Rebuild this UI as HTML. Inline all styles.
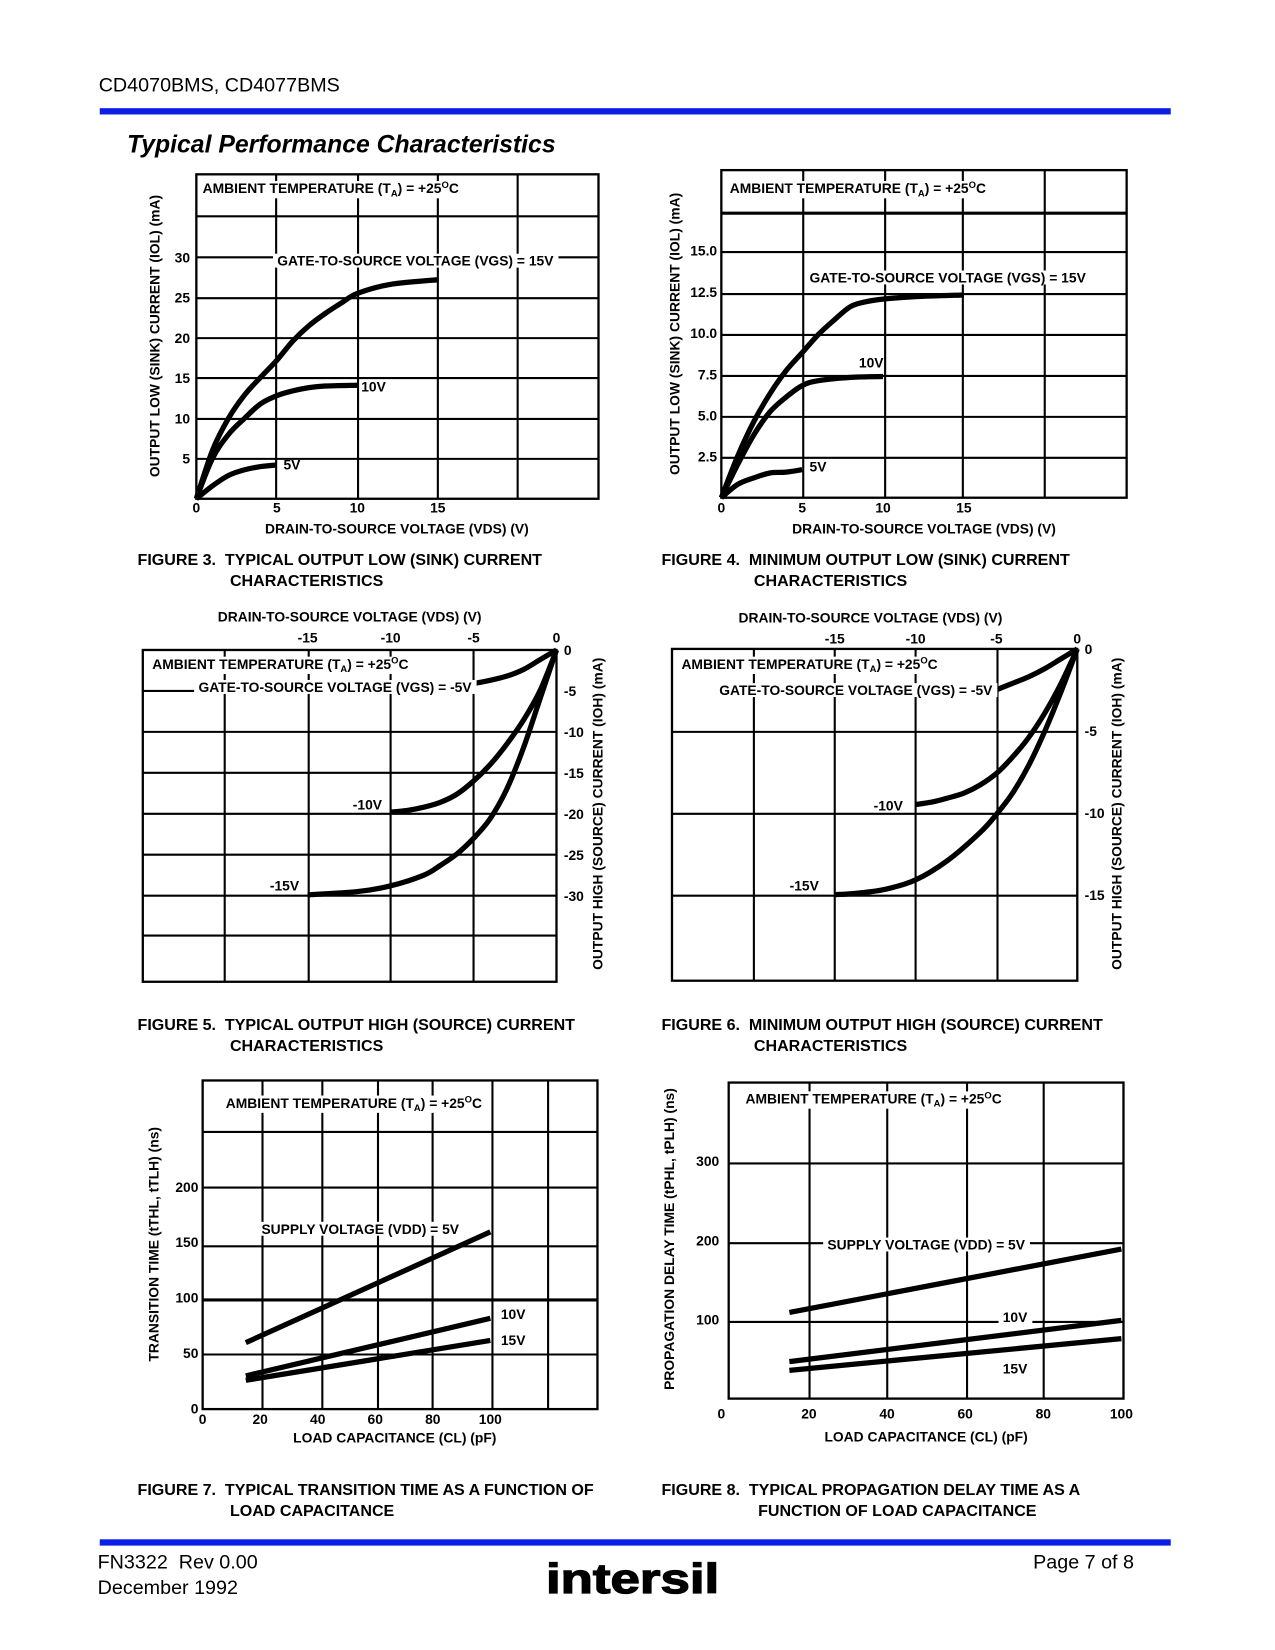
<!DOCTYPE html>
<html><head><meta charset="utf-8">
<style>
html,body{margin:0;padding:0;background:#fff;}
svg{display:block;}
text{font-family:"Liberation Sans",Arial,sans-serif;fill:#000;white-space:pre;}
.s{font-size:13.2px;font-weight:bold;}
.cap{font-size:15.3px;font-weight:bold;}
</style></head>
<body>
<svg id="page" width="1275" height="1650" viewBox="0 0 1214.3 1571.4" xml:space="preserve">
<text x="94" y="87" style="font-size:18.8px">CD4070BMS, CD4077BMS</text>
<rect x="95" y="103" width="1020" height="6" fill="#0a1ee6"/>
<text x="121" y="145" style="font-size:23.6px;font-weight:bold;font-style:italic">Typical Performance Characteristics</text>

<g id="marks"></g>

<g id="labels">
<g>
<text class="s bg" x="193" y="184">AMBIENT TEMPERATURE (T<tspan font-size="9" dy="3">A</tspan><tspan dy="-3">) = +25</tspan><tspan font-size="9" dy="-5">O</tspan><tspan dy="5">C</tspan></text>
<text class="s bg" x="264" y="253">GATE-TO-SOURCE VOLTAGE (VGS) = 15V</text>
<text class="s" x="344" y="373">10V</text>
<text class="s" x="270" y="447">5V</text>
<text class="s" x="378" y="508" text-anchor="middle">DRAIN-TO-SOURCE VOLTAGE (VDS) (V)</text>
<text class="s" transform="translate(152,320) rotate(-90)" text-anchor="middle">OUTPUT LOW (SINK) CURRENT (IOL) (mA)</text>
<text class="cap" x="131" y="538">FIGURE 3.  TYPICAL OUTPUT LOW (SINK) CURRENT</text>
<text class="cap" x="219" y="558">CHARACTERISTICS</text>
</g>
<g>
<text class="s bg" x="695" y="184">AMBIENT TEMPERATURE (T<tspan font-size="9" dy="3">A</tspan><tspan dy="-3">) = +25</tspan><tspan font-size="9" dy="-5">O</tspan><tspan dy="5">C</tspan></text>
<text class="s bg" x="771" y="269">GATE-TO-SOURCE VOLTAGE (VGS) = 15V</text>
<text class="s" x="818" y="350">10V</text>
<text class="s" x="771" y="449">5V</text>
<text class="s" x="880" y="508" text-anchor="middle">DRAIN-TO-SOURCE VOLTAGE (VDS) (V)</text>
<text class="s" transform="translate(647,318) rotate(-90)" text-anchor="middle">OUTPUT LOW (SINK) CURRENT (IOL) (mA)</text>
<text class="cap" x="630" y="538">FIGURE 4.  MINIMUM OUTPUT LOW (SINK) CURRENT</text>
<text class="cap" x="718" y="558">CHARACTERISTICS</text>
</g>
<g>
<text class="s" x="333" y="592" text-anchor="middle">DRAIN-TO-SOURCE VOLTAGE (VDS) (V)</text>
<text class="s bg" x="145" y="637">AMBIENT TEMPERATURE (T<tspan font-size="9" dy="3">A</tspan><tspan dy="-3">) = +25</tspan><tspan font-size="9" dy="-5">O</tspan><tspan dy="5">C</tspan></text>
<text class="s bg" x="189" y="659">GATE-TO-SOURCE VOLTAGE (VGS) = -5V</text>
<text class="s" x="336" y="771">-10V</text>
<text class="s" x="257" y="848">-15V</text>
<text class="s" transform="translate(574,775) rotate(-90)" text-anchor="middle">OUTPUT HIGH (SOURCE) CURRENT (IOH) (mA)</text>
<text class="cap" x="131" y="981">FIGURE 5.  TYPICAL OUTPUT HIGH (SOURCE) CURRENT</text>
<text class="cap" x="219" y="1001">CHARACTERISTICS</text>
</g>
<g>
<text class="s" x="829" y="593" text-anchor="middle">DRAIN-TO-SOURCE VOLTAGE (VDS) (V)</text>
<text class="s bg" x="649" y="637">AMBIENT TEMPERATURE (T<tspan font-size="9" dy="3">A</tspan><tspan dy="-3">) = +25</tspan><tspan font-size="9" dy="-5">O</tspan><tspan dy="5">C</tspan></text>
<text class="s bg" x="685" y="662">GATE-TO-SOURCE VOLTAGE (VGS) = -5V</text>
<text class="s" x="832" y="772">-10V</text>
<text class="s" x="752" y="848">-15V</text>
<text class="s" transform="translate(1068,775) rotate(-90)" text-anchor="middle">OUTPUT HIGH (SOURCE) CURRENT (IOH) (mA)</text>
<text class="cap" x="630" y="981">FIGURE 6.  MINIMUM OUTPUT HIGH (SOURCE) CURRENT</text>
<text class="cap" x="718" y="1001">CHARACTERISTICS</text>
</g>
<g>
<text class="s bg" x="215" y="1055">AMBIENT TEMPERATURE (T<tspan font-size="9" dy="3">A</tspan><tspan dy="-3">) = +25</tspan><tspan font-size="9" dy="-5">O</tspan><tspan dy="5">C</tspan></text>
<text class="s bg" x="249" y="1175">SUPPLY VOLTAGE (VDD) = 5V</text>
<text class="s" x="477" y="1256">10V</text>
<text class="s" x="477" y="1281">15V</text>
<text class="s" x="376" y="1374" text-anchor="middle">LOAD CAPACITANCE (CL) (pF)</text>
<text class="s" transform="translate(151,1185) rotate(-90)" text-anchor="middle">TRANSITION TIME (tTHL, tTLH) (ns)</text>
<text class="cap" x="131" y="1424">FIGURE 7.  TYPICAL TRANSITION TIME AS A FUNCTION OF</text>
<text class="cap" x="219" y="1444">LOAD CAPACITANCE</text>
</g>
<g>
<text class="s bg" x="710" y="1051">AMBIENT TEMPERATURE (T<tspan font-size="9" dy="3">A</tspan><tspan dy="-3">) = +25</tspan><tspan font-size="9" dy="-5">O</tspan><tspan dy="5">C</tspan></text>
<text class="s bg" x="788" y="1190">SUPPLY VOLTAGE (VDD) = 5V</text>
<text class="s bg" x="955" y="1259">10V</text>
<text class="s" x="955" y="1308">15V</text>
<text class="s" x="882" y="1373" text-anchor="middle">LOAD CAPACITANCE (CL) (pF)</text>
<text class="s" transform="translate(642,1180) rotate(-90)" text-anchor="middle">PROPAGATION DELAY TIME (tPHL, tPLH) (ns)</text>
<text class="cap" x="630" y="1424">FIGURE 8.  TYPICAL PROPAGATION DELAY TIME AS A</text>
<text class="cap" x="722" y="1444">FUNCTION OF LOAD CAPACITANCE</text>
</g>
</g>

<rect x="95" y="1466" width="1020" height="6" fill="#0a1ee6"/>
<text x="93" y="1494" style="font-size:18.8px">FN3322  Rev 0.00</text>
<text x="93" y="1518" style="font-size:18.8px">December 1992</text>
<text x="1080" y="1494" text-anchor="end" style="font-size:18.8px">Page 7 of 8</text>
<text x="520" y="1517" textLength="165" lengthAdjust="spacingAndGlyphs" style="font-size:40px;font-weight:bold;stroke:#000;stroke-width:1.2">intersil</text>
</svg>

<script>
var f3X15 = [0,1,2,3,4,5,6,7,8,9,10,12,15];
var f3Y15 = [0,6,10,12.9,15.1,17.2,19.6,21.5,23,24.3,25.5,26.6,27.2];
var f3X10 = [0,1,2,3,4,5,6,7,8,10];
var f3Y10 = [0,5,8,10,11.8,12.8,13.4,13.8,14,14.1];
var f3X5 = [0,1,2,3,4,5];
var f3Y5 = [0,1.6,2.9,3.6,4,4.2];
var f3XTicks = [0,5,10,15];
var f3YTicks = [5,10,15,20,25,30];
var f4X15 = [0,1,2,3,4,5,6,7,8,9,10,12,15];
var f4Y15 = [0,2.5,4.6,6.3,7.7,8.8,9.9,10.8,11.6,11.9,12.05,12.2,12.3];
var f4X10 = [0,1,2,3,4,5,6,8,10];
var f4Y10 = [0,2,3.8,5.2,6.1,6.8,7.1,7.3,7.35];
var f4X5 = [0,1,2,3,4,5];
var f4Y5 = [0,0.8,1.2,1.5,1.55,1.7];
var f4XTicks = [0,5,10,15];
var f4YTicks = ["2.5","5.0","7.5","10.0","12.5","15.0"];
var f5X5 = [0,-1,-2,-3,-4,-5];
var f5Y5 = [0,-1.2,-2.4,-3.2,-3.7,-4.1];
var f5X10 = [0,-1,-2,-3,-4,-5,-6,-7,-8,-9,-10];
var f5Y10 = [0,-5,-8.6,-11.5,-14,-16,-17.6,-18.6,-19.2,-19.6,-19.8];
var f5X15 = [0,-1,-2,-3,-4,-5,-6,-7,-8,-10,-12,-15];
var f5Y15 = [0,-6,-12,-17,-20.6,-23,-24.9,-26.3,-27.5,-28.8,-29.5,-29.9];
var f5XTicks = [-15,-10,-5,0];
var f5YTicks = [0,-5,-10,-15,-20,-25,-30];
var f6X5 = [0,-1,-2,-3,-4,-5];
var f6Y5 = [0,-0.6,-1.2,-1.7,-2.1,-2.5];
var f6X10 = [0,-1,-2,-3,-4,-5,-6,-7,-8,-9,-10];
var f6Y10 = [0,-2.1,-3.9,-5.4,-6.6,-7.6,-8.3,-8.8,-9.1,-9.35,-9.5];
var f6X15 = [0,-1,-2,-3,-4,-5,-6,-8,-10,-12,-14,-15];
var f6Y15 = [0,-2.6,-5,-7.1,-8.8,-10.1,-11.2,-12.9,-14.1,-14.7,-14.95,-15];
var f6XTicks = [-15,-10,-5,0];
var f6YTicks = [0,-5,-10,-15];
var f7X = [15,100];
var f7Y5 = [60,160];
var f7Y10 = [30,82];
var f7Y15 = [26,62];
var f7XTicks = [0,20,40,60,80,100];
var f7YTicks = [0,50,100,150,200];
var f8X = [15,100];
var f8Y5 = [110,190];
var f8Y10 = [48,100];
var f8Y15 = [37,77];
var f8XTicks = [20,40,60,80,100];
var f8YTicks = [100,200,300];

var NS = "http://www.w3.org/2000/svg";
var marks = document.getElementById('marks');
var labelsG = document.getElementById('labels');

function mk(tag, attrs, parent){
  var e = document.createElementNS(NS, tag);
  for (var k in attrs) e.setAttribute(k, attrs[k]);
  (parent||marks).appendChild(e);
  return e;
}
function line(x1,y1,x2,y2,w,name){
  var l = mk('line',{x1:x1,y1:y1,x2:x2,y2:y2,stroke:'#000','stroke-width':w||2});
  
  
  return l;
}
function box(x,y,w,h,name){
  var r = mk('rect',{x:x,y:y,width:w,height:h,fill:'none',stroke:'#000','stroke-width':2.2});
  
  
}
function curve(xs, ys, sx, sy, name, w){
  var p = xs.map(function(v,i){return [sx(v), sy(ys[i])];});
  var d = 'M'+p[0][0]+','+p[0][1];
  for (var i=0;i<p.length-1;i++){
    var p0=p[i-1]||p[i], p1=p[i], p2=p[i+1], p3=p[i+2]||p2;
    var c1x=p1[0]+(p2[0]-p0[0])/6, c1y=p1[1]+(p2[1]-p0[1])/6;
    var c2x=p2[0]-(p3[0]-p1[0])/6, c2y=p2[1]-(p3[1]-p1[1])/6;
    d+=' C'+c1x+','+c1y+' '+c2x+','+c2y+' '+p2[0]+','+p2[1];
  }
  var e = mk('path',{d:d,fill:'none',stroke:'#000','stroke-width':w||5,'stroke-linecap':'butt','stroke-linejoin':'round'});
  
  
}
function tick(x,y,str,anchor,name){
  var t = mk('text',{x:x,y:y,'text-anchor':anchor||'middle','class':'s'}, labelsG);
  t.textContent = str;
  
  
}

(function(){
  var sx=function(v){return 187+v*15.33;}, sy=function(v){return 475-v*7.67;};
  [263,341,417,493].forEach(function(x){line(x,166,x,475);});
  [206,245,284,322,360,399,437].forEach(function(y){line(187,y,570,y);});
  box(187,166,383,309,'fig3-plot-frame');
  curve(f3X15,f3Y15,sx,sy,'fig3-curve-15v');
  curve(f3X10,f3Y10,sx,sy,'fig3-curve-10v');
  curve(f3X5,f3Y5,sx,sy,'fig3-curve-5v');
  f3XTicks.forEach(function(v){tick(sx(v),488,String(v),'middle','fig3-x-tick');});
  f3YTicks.forEach(function(v){tick(181,sy(v)+5,String(v),'end','fig3-y-tick');});
})();
(function(){
  var sx=function(v){return 687+v*15.4;}, sy=function(v){return 474-v*15.7;};
  [765,843,917,995].forEach(function(x){line(x,162,x,474);});
  line(687,203,1073,203,3);
  [240,280,319,358,397,436].forEach(function(y){line(687,y,1073,y);});
  box(687,162,386,312,'fig4-plot-frame');
  curve(f4X15,f4Y15,sx,sy,'fig4-curve-15v');
  curve(f4X10,f4Y10,sx,sy,'fig4-curve-10v');
  curve(f4X5,f4Y5,sx,sy,'fig4-curve-5v');
  f4XTicks.forEach(function(v){tick(sx(v),488,String(v),'middle','fig4-x-tick');});
  f4YTicks.forEach(function(v){tick(683,sy(parseFloat(v))+5,v,'end','fig4-y-tick');});
})();
(function(){
  var sx=function(v){return 530+v*15.8;}, sy=function(v){return 619-v*7.8;};
  [214,294,372,451].forEach(function(x){line(x,619,x,935);});
  line(136,658,185,658);
  [697,736,775,814,853,891].forEach(function(y){line(136,y,530,y);});
  box(136,619,394,316,'fig5-plot-frame');
  curve(f5X5,f5Y5,sx,sy,'fig5-curve-5v');
  curve(f5X10,f5Y10,sx,sy,'fig5-curve-10v');
  curve(f5X15,f5Y15,sx,sy,'fig5-curve-15v');
  f5XTicks.forEach(function(v){tick(sx(v),612,String(v),'middle','fig5-x-tick');});
  f5YTicks.forEach(function(v){tick(537,sy(v)+5,String(v),'start','fig5-y-tick');});
})();
(function(){
  var sx=function(v){return 1026+v*15.4;}, sy=function(v){return 618-v*15.6;};
  [718,795,872,950].forEach(function(x){line(x,618,x,934);});
  [697,775,853].forEach(function(y){line(640,y,1026,y);});
  box(640,618,386,316,'fig6-plot-frame');
  curve(f6X5,f6Y5,sx,sy,'fig6-curve-5v');
  curve(f6X10,f6Y10,sx,sy,'fig6-curve-10v');
  curve(f6X15,f6Y15,sx,sy,'fig6-curve-15v');
  f6XTicks.forEach(function(v){tick(sx(v),613,String(v),'middle','fig6-x-tick');});
  f6YTicks.forEach(function(v){tick(1033,sy(v)+5,String(v),'start','fig6-y-tick');});
})();
(function(){
  var sx=function(v){return 193+v*2.74;}, sy=function(v){return 1342-v*1.055;};
  [250,307,360,412,469,522].forEach(function(x){line(x,1029,x,1342);});
  [1078,1131,1187,1290].forEach(function(y){line(193,y,569,y);});
  line(193,1238,569,1238,3);
  box(193,1029,376,313,'fig7-plot-frame');
  curve(f7X,f7Y5,sx,sy,'fig7-line-5v');
  curve(f7X,f7Y10,sx,sy,'fig7-line-10v');
  curve(f7X,f7Y15,sx,sy,'fig7-line-15v');
  f7XTicks.forEach(function(v){tick(sx(v),1356,String(v),'middle','fig7-x-tick');});
  f7YTicks.forEach(function(v){tick(189,sy(v)+4,String(v),'end','fig7-y-tick');});
})();
(function(){
  var sx=function(v){return 696+v*3.72;}, sy=function(v){return 1333-v*0.755;};
  [771,845,921,994].forEach(function(x){line(x,1031,x,1332);});
  [1108,1184,1259].forEach(function(y){line(694,y,1070,y);});
  box(694,1031,376,301,'fig8-plot-frame');
  curve(f8X,f8Y5,sx,sy,'fig8-line-5v');
  curve(f8X,f8Y10,sx,sy,'fig8-line-10v');
  curve(f8X,f8Y15,sx,sy,'fig8-line-15v');
  tick(687,1351,'0','middle','fig8-x-tick');
  f8XTicks.forEach(function(v){tick(sx(v),1351,String(v),'middle','fig8-x-tick');});
  f8YTicks.forEach(function(v){tick(685,sy(v)+4,String(v),'end','fig8-y-tick');});
})();

Array.prototype.forEach.call(document.querySelectorAll('text.bg'), function(t){
  var b = t.getBBox();
  var r = document.createElementNS(NS,'rect');
  r.setAttribute('x', b.x-4); r.setAttribute('y', b.y+1);
  r.setAttribute('width', b.width+8); r.setAttribute('height', b.height-2);
  r.setAttribute('fill','#fff');
  
  
  t.parentNode.insertBefore(r, t);
});
</script>
</body></html>
